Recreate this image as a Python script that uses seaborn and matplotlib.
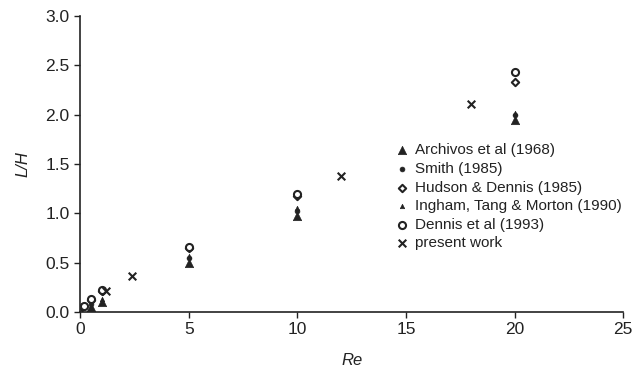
import matplotlib
matplotlib.use("Agg")
import matplotlib.pyplot as plt
import seaborn as sns
import pandas as pd

# Recirculation length L/H versus Reynolds number
archivos_re = [0.5, 1, 5, 10, 20]
archivos_lh = [0.05, 0.10, 0.50, 0.97, 1.95]

smith_re = [0.5, 5, 10, 20]
smith_lh = [0.08, 0.55, 1.02, 2.00]

hudson_re = [0.1, 0.5, 1, 5, 10, 20]
hudson_lh = [0.05, 0.12, 0.21, 0.65, 1.18, 2.33]

ingham_re = [1, 5, 10, 20]
ingham_lh = [0.13, 0.57, 1.05, 2.02]

dennis_re = [0.2, 0.5, 1, 5, 10, 20]
dennis_lh = [0.06, 0.13, 0.22, 0.66, 1.20, 2.43]

present_re = [1.2, 2.4, 12, 18]
present_lh = [0.21, 0.37, 1.38, 2.11]

labels = ["Archivos et al (1968)", "Smith (1985)", "Hudson & Dennis (1985)",
          "Ingham, Tang & Morton (1990)", "Dennis et al (1993)", "present work"]

sns.set_style("white")
plt.rcParams["font.family"] = ["Liberation Sans", "DejaVu Sans"]

fig = plt.figure(figsize=(6.36, 3.68), dpi=100)
ax = fig.add_axes([0.126, 0.152, 0.854, 0.805])

ink = "#222222"
styles = [
    (archivos_re, archivos_lh, dict(marker="^", s=36, color=ink, edgecolor=ink, linewidth=0.5)),
    (smith_re, smith_lh, dict(marker="o", s=12, color=ink, edgecolor=ink, linewidth=0.5)),
    (hudson_re, hudson_lh, dict(marker="D", s=14, facecolor="white", edgecolor=ink, linewidth=1.5)),
    (ingham_re, ingham_lh, dict(marker="^", s=10, color=ink, edgecolor=ink, linewidth=0.5)),
    (dennis_re, dennis_lh, dict(marker="o", s=26, facecolor="white", edgecolor=ink, linewidth=1.5)),
    (present_re, present_lh, dict(marker="x", s=30, color=ink, linewidth=1.5)),
]

for (xs, ys, kw), lab in zip(styles, labels):
    df = pd.DataFrame({"Re": xs, "LH": ys})
    sns.scatterplot(data=df, x="Re", y="LH", ax=ax, label=lab, zorder=3, **kw)

ax.set_xlim(0, 25)
ax.set_ylim(0, 3.0)
ax.set_xticks([0, 5, 10, 15, 20, 25])
ax.set_yticks([0, 0.5, 1.0, 1.5, 2.0, 2.5, 3.0])
ax.set_yticklabels(["0.0", "0.5", "1.0", "1.5", "2.0", "2.5", "3.0"])
ax.tick_params(axis="both", labelsize=12.5, colors=ink, direction="out",
               length=4, width=1, bottom=True, left=True)
for side in ["top", "right"]:
    ax.spines[side].set_visible(False)
for side in ["left", "bottom"]:
    ax.spines[side].set_color(ink)
    ax.spines[side].set_linewidth(1.2)

ax.set_xlabel("Re", fontsize=12, style="italic", color=ink, labelpad=11)
ax.set_ylabel("L/H", fontsize=12, style="italic", color=ink, labelpad=11)

leg = ax.legend(loc="upper left", bbox_to_anchor=(0.565, 0.59), frameon=False,
                fontsize=11, handletextpad=0.35, labelspacing=0.3,
                borderaxespad=0, handlelength=1.1)
for t in leg.get_texts():
    t.set_color(ink)

fig.savefig("out.png", dpi=100)
